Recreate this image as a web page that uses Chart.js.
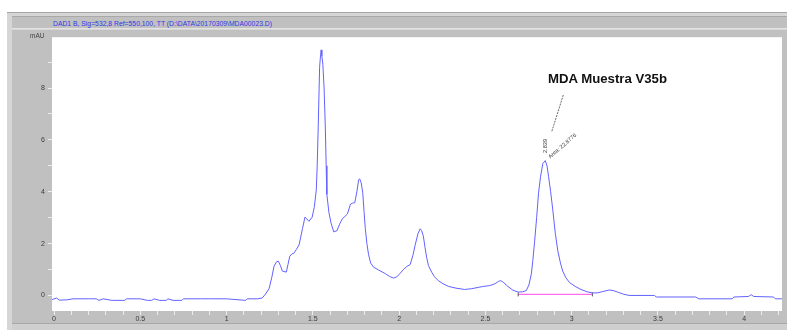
<!DOCTYPE html>
<html>
<head>
<meta charset="utf-8">
<script src="https://cdn.jsdelivr.net/npm/chart.js@4.4.1/dist/chart.umd.min.js"></script>
<style>
  html, body { margin: 0; padding: 0; background: #ffffff; }
  body { width: 787px; height: 330px; position: relative; overflow: hidden; font-family: "Liberation Sans", Arial, sans-serif; }
  #outer { position: absolute; left: 7px; top: 12px; width: 780px; height: 318px; background: #d6d6d6; border-top: 1px solid #a4a4a4; box-sizing: border-box; }
  #titlebar { position: absolute; left: 12px; top: 16px; width: 775px; height: 13px; background: #c0c0c0; border-top: 1px solid #a8a8a8; border-bottom: 1px solid #e4e4e4; box-sizing: border-box; }
  #titletext { position: absolute; left: 53px; top: 19px; font-size: 6.8px; line-height: 9px; color: #3434e8; white-space: nowrap; }
  #panel { position: absolute; left: 12px; top: 30px; width: 775px; height: 293px; background: #c0c0c0; }
  #bottomstrip { position: absolute; left: 12px; top: 323px; width: 775px; height: 7px; background: #cfcfcf; border-top: 1px solid #a8a8a8; box-sizing: border-box; }
  canvas#c { position: absolute; left: 12px; top: 30px; }
  #mau { position: absolute; left: 30px; top: 32px; font-size: 6.5px; color: #404040; }
  #anno { position: absolute; left: 548px; top: 71px; font-size: 13.2px; font-weight: bold; color: #111; white-space: nowrap; }
  .rot { position: absolute; font-size: 5.6px; color: #333; white-space: nowrap; transform-origin: 0 0; }
  svg#lead { position: absolute; left: 0; top: 0; }
</style>
</head>
<body>
<div id="outer"></div>
<div id="titlebar"></div>
<div id="titletext">DAD1 B, Sig=532,8 Ref=550,100, TT (D:\DATA\20170309\MDA00023.D)</div>
<div id="panel"></div>
<div id="bottomstrip"></div>
<canvas id="c" width="775" height="293"></canvas>
<div id="mau">mAU</div>
<div id="anno">MDA Muestra V35b</div>
<div class="rot" style="left:542px; top:153px; transform: rotate(-90deg);">2.839</div>
<div class="rot" style="left:547px; top:155px; transform: rotate(-41deg);">Area: 22.8776</div>
<svg id="lead" width="787" height="330">
  <line x1="563.3" y1="95" x2="551.7" y2="131.7" stroke="#444" stroke-width="0.8" stroke-dasharray="2,1"/>
</svg>
<script>
// Retention time (min)
const timeVals = [
  -0.012, 0.015, 0.03, 0.073, 0.11, 0.2, 0.246, 0.26, 0.285, 0.335, 0.345, 0.41, 0.42, 0.5, 0.54, 0.565, 0.58,
  0.61, 0.65, 0.66, 0.69, 0.74, 0.75, 0.85, 0.9, 1.0, 1.11, 1.12, 1.18,
  1.206, 1.225, 1.246, 1.262, 1.275, 1.29, 1.30, 1.312, 1.323, 1.346, 1.356, 1.366, 1.378, 1.39, 1.405, 1.42,
  1.44, 1.454, 1.465, 1.477, 1.496, 1.508, 1.516, 1.52, 1.525, 1.531, 1.539, 1.545, 1.548, 1.552, 1.558, 1.565,
  1.572, 1.577, 1.581, 1.593, 1.605, 1.621, 1.64, 1.655, 1.67, 1.70, 1.718, 1.73, 1.743, 1.755, 1.765, 1.771,
  1.78, 1.789, 1.797, 1.804, 1.813, 1.823, 1.835, 1.852, 1.881, 1.92, 1.945, 1.968, 1.987, 2.005, 2.025, 2.045,
  2.064, 2.08, 2.093, 2.11, 2.122, 2.13, 2.14, 2.15, 2.16, 2.17, 2.19, 2.205, 2.227, 2.255, 2.285, 2.33, 2.38,
  2.42, 2.458, 2.49, 2.525, 2.555, 2.575, 2.589, 2.605, 2.63, 2.66, 2.69, 2.715, 2.737, 2.752, 2.766, 2.775,
  2.785, 2.797, 2.808, 2.82, 2.833, 2.847, 2.857, 2.866, 2.878, 2.89, 2.905, 2.92, 2.935, 2.948, 2.965, 2.987,
  3.02, 3.054, 3.09, 3.12, 3.15, 3.18, 3.218, 3.24, 3.266, 3.3, 3.333, 3.48, 3.49, 3.718, 3.737, 3.93, 3.94,
  4.025, 4.04, 4.055, 4.17, 4.18, 4.23
];
// Absorbance (mAU)
const signalVals = [
  -0.16, -0.10, -0.18, -0.17, -0.13, -0.13, -0.13, -0.19, -0.13, -0.19, -0.19, -0.19, -0.13, -0.13, -0.19, -0.19, -0.13,
  -0.19, -0.19, -0.13, -0.19, -0.19, -0.13, -0.13, -0.13, -0.13, -0.19, -0.13, -0.13,
  -0.10, 0.05, 0.26, 0.70, 1.13, 1.30, 1.32, 1.15, 0.94, 0.90, 1.20, 1.51, 1.60, 1.63, 1.78, 1.95,
  2.58, 3.02, 2.95, 2.86, 3.02, 3.40, 3.84, 4.10, 5.00, 6.50, 8.80, 9.30, 9.47, 9.25, 8.90, 8.00,
  6.50, 5.00, 3.90, 3.20, 2.80, 2.45, 2.50, 2.75, 2.95, 3.14, 3.52, 3.56, 3.58, 4.00, 4.45, 4.50,
  4.35, 3.96, 3.20, 2.58, 2.00, 1.57, 1.25, 1.09, 0.98, 0.84, 0.73, 0.67, 0.72, 0.85, 1.00, 1.12,
  1.19, 1.55, 1.95, 2.40, 2.57, 2.50, 2.30, 1.85, 1.45, 1.15, 0.88, 0.72, 0.57, 0.45, 0.35, 0.28, 0.23,
  0.26, 0.31, 0.35, 0.38, 0.45, 0.54, 0.57, 0.50, 0.35, 0.20, 0.13, 0.14, 0.19, 0.40, 0.82, 1.35,
  2.07, 3.00, 3.96, 4.60, 5.09, 5.20, 5.00, 4.59, 4.00, 3.33, 2.40, 1.70, 1.25, 0.94, 0.70, 0.50,
  0.35, 0.23, 0.14, 0.10, 0.10, 0.15, 0.21, 0.19, 0.13, 0.05, 0.00, 0.00, -0.06, -0.06, -0.13, -0.13, -0.06,
  -0.04, 0.03, -0.04, -0.06, -0.13, -0.13
];
// Integration baseline of the 2.839 min peak
const baseTimes = [2.69, 3.12];
const baseVals = [0.04, 0.04];
// Axis ranges and labelled ticks
const xMin = -0.012, xMax = 4.219, xStep = 0.1, xLabelStep = 0.5;
const yMin = -0.6, yMax = 9.96, yStep = 1, yLabelStep = 2;

const trace = timeVals.map((t, i) => ({ x: t, y: signalVals[i] }));
const baseline = baseTimes.map((t, i) => ({ x: t, y: baseVals[i] }));

function isMultiple(v, step) {
  const r = v / step;
  return Math.abs(r - Math.round(r)) < 1e-6;
}

const whiteArea = {
  id: 'whiteArea',
  beforeDraw(chart) {
    const { ctx, chartArea: a } = chart;
    ctx.save();
    ctx.fillStyle = '#ffffff';
    ctx.fillRect(a.left, a.top, a.right - a.left, a.bottom - a.top);
    ctx.restore();
  }
};

const tickFont = { family: '"Liberation Sans", Arial, sans-serif', size: 7 };

new Chart(document.getElementById('c'), {
  type: 'scatter',
  data: {
    datasets: [
      {
        data: trace, showLine: true, borderColor: '#6262ff', borderWidth: 1,
        pointRadius: 0, tension: 0, fill: false
      },
      {
        data: baseline, showLine: true, borderColor: '#ff6cf0', borderWidth: 1.2,
        pointRadius: 2, pointStyle: 'line', rotation: 90, pointBorderColor: '#555555', pointBorderWidth: 1
      }
    ]
  },
  plugins: [whiteArea],
  options: {
    responsive: false,
    devicePixelRatio: 1,
    animation: false,
    layout: { padding: { top: 1, right: 2, left: 0, bottom: 0 } },
    plugins: { legend: { display: false }, tooltip: { enabled: false } },
    scales: {
      x: {
        type: 'linear', min: xMin, max: xMax,
        afterFit(s) { s.height = 12; },
        border: { display: false },
        grid: { drawOnChartArea: false, drawTicks: true, tickLength: 4, color: '#ececec' },
        ticks: {
          stepSize: xStep, includeBounds: false, autoSkip: false, maxRotation: 0, padding: 0,
          color: '#3a3a3a', font: tickFont,
          callback: v => isMultiple(v, xLabelStep) ? String(Math.round(v * 10) / 10) : ''
        }
      },
      y: {
        type: 'linear', min: yMin, max: yMax,
        afterFit(s) { s.width = 40; },
        border: { display: false },
        grid: { drawOnChartArea: false, drawTicks: true, tickLength: 4, color: '#ececec' },
        ticks: {
          stepSize: yStep, includeBounds: false, autoSkip: false, padding: 3,
          color: '#3a3a3a', font: tickFont,
          callback: v => isMultiple(v, yLabelStep) ? String(Math.round(v)) : ''
        }
      }
    }
  }
});
</script>
</body>
</html>
